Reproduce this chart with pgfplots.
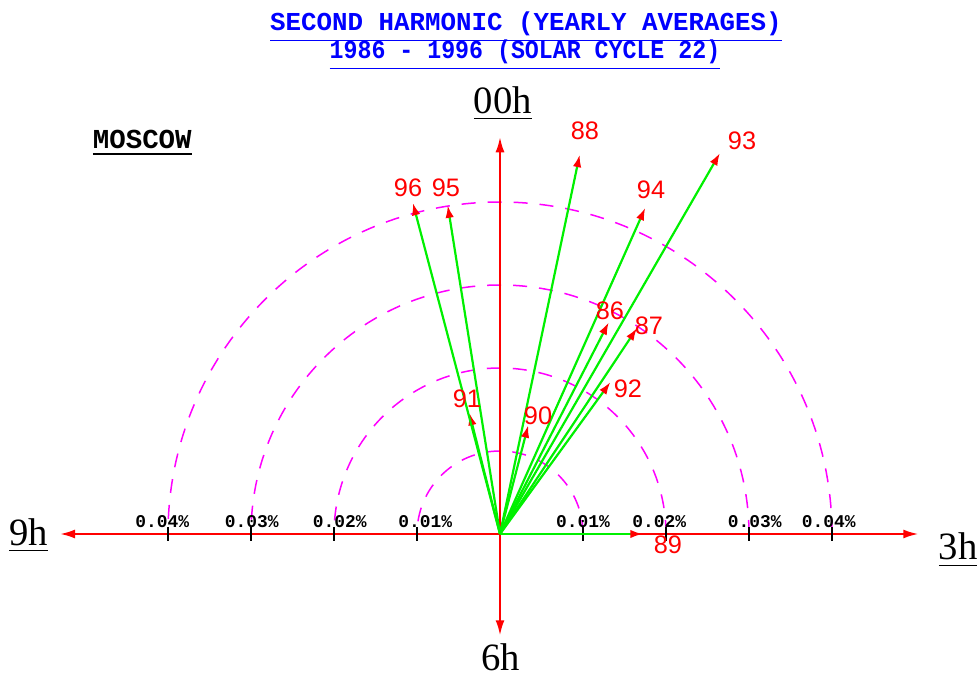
\documentclass[border=0pt]{standalone}
\usepackage{pgfplots}
\pgfplotsset{compat=1.18}
\usepackage{graphicx}
\usepackage{fontspec}
\usetikzlibrary{arrows.meta}
\setmainfont{Liberation Serif}
\newfontfamily\monof{Liberation Mono}
\newfontfamily\sansf{Liberation Sans}
\definecolor{vecgreen}{RGB}{0,240,0}
\definecolor{axred}{RGB}{255,0,0}
\definecolor{ringmag}{RGB}{255,0,255}
\definecolor{ttlblue}{RGB}{0,0,255}
\tikzset{
  year/.style={font=\sansf\fontsize{7.2}{8}\selectfont, text=axred, inner sep=0pt},
  pct/.style={font=\monof\bfseries\fontsize{5.1}{6}\selectfont, inner sep=0pt},
  hour/.style={font=\fontsize{11}{13}\selectfont, anchor=base, inner sep=0pt},
  ring/.style={ringmag, line width=0.15mm, dash pattern=on 1.4mm off 1.2mm},
  amptick/.style={black, line width=0.15mm},
}

\begin{document}
\begin{tikzpicture}
\begin{axis}[
  scale only axis, width=98mm, height=67.8mm,
  xmin=-0.060241, xmax=0.057831, ymin=-0.017349, ymax=0.064337,
  axis lines=none, clip=false,
]
% frame of the picture
\path (rel axis cs:0,0) rectangle (rel axis cs:1,1);

% amplitude rings, 0.01 % to 0.04 %
\draw[ring] (axis cs:0.01,0) arc[start angle=0, end angle=180, radius=8.3mm];
\draw[ring] (axis cs:0.02,0) arc[start angle=0, end angle=180, radius=16.6mm];
\draw[ring] (axis cs:0.03,0) arc[start angle=0, end angle=180, radius=24.9mm];
\draw[ring] (axis cs:0.04,0) arc[start angle=0, end angle=180, radius=33.2mm];

% clock axes
\draw[axred, line width=0.2mm, {Latex[length=1.5mm,width=0.9mm]}-{Latex[length=1.5mm,width=0.9mm]}]
  (axis cs:-0.0530,0) -- (axis cs:0.0504,0);
\draw[axred, line width=0.2mm, {Latex[length=1.5mm,width=0.9mm]}-{Latex[length=1.5mm,width=0.9mm]}]
  (axis cs:0,-0.0122) -- (axis cs:0,0.0478);

% amplitude ticks
\draw[amptick] (axis cs:-0.04,-0.0008) -- (axis cs:-0.04,0.0008);
\draw[amptick] (axis cs:-0.03,-0.0008) -- (axis cs:-0.03,0.0008);
\draw[amptick] (axis cs:-0.02,-0.0008) -- (axis cs:-0.02,0.0008);
\draw[amptick] (axis cs:-0.01,-0.0008) -- (axis cs:-0.01,0.0008);
\draw[amptick] (axis cs:0.01,-0.0008) -- (axis cs:0.01,0.0008);
\draw[amptick] (axis cs:0.02,-0.0008) -- (axis cs:0.02,0.0008);
\draw[amptick] (axis cs:0.03,-0.0008) -- (axis cs:0.03,0.0008);
\draw[amptick] (axis cs:0.04,-0.0008) -- (axis cs:0.04,0.0008);
\node[pct] at (axis cs:-0.0407,0.00145) {0.04\%};
\node[pct] at (axis cs:-0.0299,0.00145) {0.03\%};
\node[pct] at (axis cs:-0.0193,0.00145) {0.02\%};
\node[pct] at (axis cs:-0.0090,0.00145) {0.01\%};
\node[pct] at (axis cs:0.0100,0.00145) {0.01\%};
\node[pct] at (axis cs:0.0192,0.00145) {0.02\%};
\node[pct] at (axis cs:0.0307,0.00145) {0.03\%};
\node[pct] at (axis cs:0.0396,0.00145) {0.04\%};

% yearly mean vectors of the second harmonic
\addplot[vecgreen, line width=0.22mm,
  quiver={u=\thisrow{u}, v=\thisrow{v},
    every arrow/.append style={-{Latex[axred,length=1.25mm,width=0.85mm]}}}]
  table[x=x, y=y] {
x y u v
0 0 0.0131 0.0255
0 0 0.0165 0.0248
0 0 0.0096 0.0457
0 0 0.0172 0.0000
0 0 0.0034 0.0131
0 0 -0.0037 0.0146
0 0 0.0133 0.0183
0 0 0.0265 0.0459
0 0 0.0175 0.0393
0 0 -0.0063 0.0396
0 0 -0.0105 0.0399
};

% year labels
\node[year] at (axis cs:0.01325,0.02687) {86};
\node[year] at (axis cs:0.01795,0.02506) {87};
\node[year] at (axis cs:0.01024,0.04855) {88};
\node[year] at (axis cs:0.02024,-0.00133) {89};
\node[year] at (axis cs:0.00458,0.01422) {90};
\node[year] at (axis cs:-0.00398,0.01627) {91};
\node[year] at (axis cs:0.01542,0.01747) {92};
\node[year] at (axis cs:0.02916,0.04735) {93};
\node[year] at (axis cs:0.0182,0.04145) {94};
\node[year] at (axis cs:-0.00651,0.04175) {95};
\node[year] at (axis cs:-0.01108,0.04175) {96};

% local time directions
\node[hour] at (axis cs:0.00036,0.0507) {\underline{00h}};
\node[hour] at (axis cs:-0.0568,-0.00133) {\underline{9h}};
\node[hour] at (axis cs:0.0552,-0.00313) {\underline{3h}};
\node[hour] at (axis cs:0.00012,-0.01639) {6h};

% station and heading
\node[font=\monof\bfseries\fontsize{7.8}{9}\selectfont, anchor=base, inner sep=0pt]
  at (axis cs:-0.0431,0.0464) {\underline{MOSCOW}};
\node[font=\monof\bfseries\fontsize{7.35}{9}\selectfont, text=ttlblue, anchor=base, inner sep=0pt]
  at (axis cs:0.00313,0.0607) {\underline{SECOND HARMONIC (YEARLY AVERAGES)}};
\node[font=\monof\bfseries\fontsize{7.35}{9}\selectfont, text=ttlblue, anchor=base, inner sep=0pt]
  at (axis cs:0.00301,0.0573) {\scalebox{0.90}[1]{\underline{1986 - 1996 (SOLAR CYCLE 22)}}};
\end{axis}
\end{tikzpicture}
\end{document}
